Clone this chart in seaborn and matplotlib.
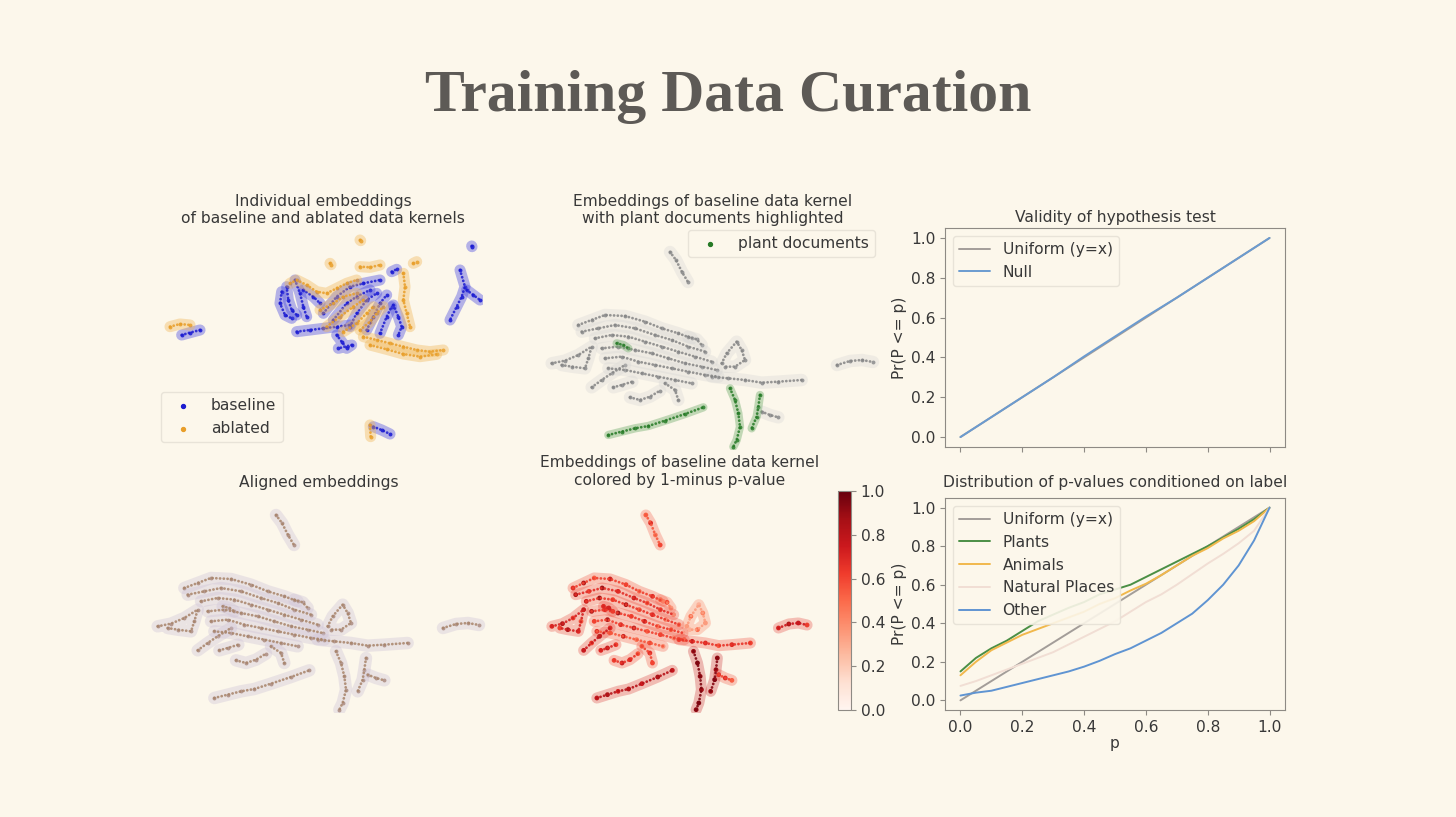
import matplotlib
matplotlib.use("Agg")
import matplotlib.pyplot as plt
import numpy as np
import pandas as pd
import seaborn as sns

# ---------------- DATA ----------------
# shared 2-D layout of the baseline kernel (panels 2, 4, 5), one list per strand
EMB_S1 = [(10, 37.5), (14, 39), (18, 40.5), (24, 40.2), (30, 38.5), (35, 36.5), (40, 35), (44, 33.5)]
EMB_S2 = [(11, 35.5), (16, 36.5), (21, 37.5), (27, 36.5), (33, 34.5), (38, 33), (43, 31), (48, 29.5)]
EMB_S3 = [(15, 33.5), (20, 34.5), (25, 34), (30, 32.5), (35, 31), (40, 29.5), (45, 28), (50, 26.5)]
EMB_S4 = [(17, 30.5), (22, 31), (27, 30), (32, 29), (37, 27.5), (42, 26), (47, 25), (51.5, 24)]
EMB_S5 = [(18, 27.5), (23, 28), (28, 26.5), (33, 25.5), (38, 24.5), (43, 23.5), (48, 22.5), (52, 22)]
EMB_S6 = [(19, 24.5), (24, 24), (29, 23), (34, 22), (39, 21), (44, 20)]
EMB_S7 = [(36, 20), (39, 18), (40, 15)]
EMB_HOOK = [(43, 34), (45.5, 33.2), (47, 31.5)]
EMB_TRI = [(53, 26), (54.5, 29), (57.5, 32.5), (59, 30), (60, 27), (57, 25), (54, 25)]
EMB_RSTRAND = [(50, 22), (55, 21.5), (60, 21), (65, 20.2), (70, 20.5), (77, 21)]
EMB_LWING = [(2, 26), (6, 26.8), (10, 28.5), (14, 31), (13, 27.5), (12, 24.5), (8, 25), (5, 25.5)]
EMB_LDIAG = [(14, 18.8), (17, 21), (20, 23), (24, 25.5)]
EMB_SMALLS = [(20.5, 18.8), (23, 19.5), (26.2, 20.5)]
EMB_SMALLC = [(25.5, 15.8), (28.5, 15), (31.5, 16), (34.5, 17.8)]
EMB_TOP = [(37.5, 59.4), (39.3, 57), (41.1, 53.4), (42.9, 50.4)]
EMB_FAR = [(87.6, 25.5), (91.5, 26.7), (95.1, 27), (98.4, 26.4)]
EMB_V1 = [(55.5, 18.5), (57, 15), (58, 11), (58.5, 7), (57.5, 3), (56.5, 1)]
EMB_V2 = [(64.5, 16.5), (64, 13), (63.5, 10), (62, 6.5)]
EMB_DIAG = [(65, 11.5), (67.5, 10.5), (70, 9.8)]
EMB_LONG = [(19, 4.5), (23, 5.5), (27, 6.5), (31, 7.2), (36, 8.8), (42, 10.8), (47.5, 12.8)]
EMB_PATCH = [(21.5, 32), (23.5, 31.5), (25, 30.5)]

# 1-minus p-value per point (panel 5)
VAL_S1 = [0.7, 0.9, 0.5, 0.8, 0.6, 0.4, 0.7, 0.3]
VAL_S2 = [0.9, 0.6, 0.95, 0.7, 0.8, 0.5, 0.6, 0.3]
VAL_S3 = [0.8, 0.95, 0.6, 0.9, 0.5, 0.7, 0.3, 0.4]
VAL_S4 = [0.9, 0.7, 0.95, 0.6, 0.8, 0.4, 0.5, 0.2]
VAL_S5 = [0.6, 0.9, 0.7, 0.85, 0.5, 0.6, 0.3, 0.4]
VAL_S6 = [0.7, 0.5, 0.8, 0.4, 0.6, 0.3]
VAL_S7 = [0.5, 0.7, 0.6]
VAL_HOOK = [0.4, 0.6, 0.3]
VAL_TRI = [0.3, 0.5, 0.2, 0.4, 0.3, 0.5, 0.2]
VAL_RSTRAND = [0.6, 0.8, 0.7, 0.5, 0.7, 0.6]
VAL_LWING = [0.7, 0.9, 0.6, 0.8, 0.5, 0.7, 0.9, 0.6]
VAL_LDIAG = [0.8, 0.6, 0.9, 0.7]
VAL_SMALLS = [0.7, 0.8, 0.6]
VAL_SMALLC = [0.6, 0.8, 0.7, 0.5]
VAL_TOP = [0.5, 0.7, 0.4, 0.6]
VAL_FAR = [0.7, 0.9, 0.8, 0.6]
VAL_V1 = [0.9, 1.0, 0.95, 0.9, 1.0, 0.95]
VAL_V2 = [0.95, 0.9, 1.0, 0.9]
VAL_DIAG = [0.6, 0.7, 0.5]
VAL_LONG = [0.8, 0.9, 0.7, 0.85, 0.75, 0.9, 0.8]
VAL_PATCH = [0.7, 0.8, 0.6]

EMB_STRANDS = [EMB_S1, EMB_S2, EMB_S3, EMB_S4, EMB_S5, EMB_S6, EMB_S7, EMB_HOOK, EMB_TRI,
               EMB_RSTRAND, EMB_LWING, EMB_LDIAG, EMB_SMALLS, EMB_SMALLC, EMB_TOP, EMB_FAR,
               EMB_V1, EMB_V2, EMB_DIAG, EMB_LONG, EMB_PATCH]
EMB_VALUES = [VAL_S1, VAL_S2, VAL_S3, VAL_S4, VAL_S5, VAL_S6, VAL_S7, VAL_HOOK, VAL_TRI,
              VAL_RSTRAND, VAL_LWING, VAL_LDIAG, VAL_SMALLS, VAL_SMALLC, VAL_TOP, VAL_FAR,
              VAL_V1, VAL_V2, VAL_DIAG, VAL_LONG, VAL_PATCH]
# strands that are plant documents (panel 2)
PLANT_STRANDS = [16, 17, 19, 20]

# individual (unaligned) embeddings, panel 1
BASE_STRANDS = [
    [(39.5, 47.5), (39, 44), (40.5, 40.5), (42.5, 39.5)],
    [(41, 49), (41.5, 45), (42.5, 42), (44, 40.5)],
    [(43.5, 51), (45, 47), (46, 43), (47, 40)],
    [(46, 48), (49, 46), (51, 44)],
    [(44, 35.5), (48, 36), (52, 36.5), (56, 37), (60, 37.5)],
    [(56, 34.5), (57.5, 32.5), (59, 30.5), (60.5, 31.5), (56.5, 30.5)],
    [(52, 41), (56, 46), (60, 49), (64, 50), (69, 51)],
    [(55, 39), (59, 44), (62, 46), (66, 48)],
    [(60, 37), (62, 41), (65, 45), (68, 47)],
    [(65, 36), (67, 40), (69, 44), (71, 46.5)],
    [(69, 35), (71, 40), (72.5, 43)],
    [(73, 43.5), (74.5, 40), (75.5, 37), (74.5, 34.5)],
    [(72.5, 53.5), (74, 54.2)],
    [(9.5, 34.5), (12, 35.2), (15, 36)],
    [(93, 54), (94.5, 49), (93.5, 46), (92, 43), (90, 39)],
    [(95, 48), (97, 46.5), (99, 45)],
    [(96.5, 61.2), (96.6, 61.0)],
    [(67, 7), (69.5, 6), (72, 4.8)],
]
ABL_STRANDS = [
    [(42, 50), (44, 51), (47, 49.5), (50, 47.5), (53, 47), (56, 48.5), (59, 50), (62, 51)],
    [(51, 42), (55, 44), (58, 46), (62, 47)],
    [(53, 37), (57, 40), (61, 43), (64, 45)],
    [(58, 35.5), (62, 38), (65, 41), (67, 43)],
    [(63, 36), (66, 38.5), (68, 41), (70, 43)],
    [(76, 53), (76.5, 49), (76, 45), (77, 41), (78, 37)],
    [(64, 34), (68, 33), (72, 32), (76, 31), (80, 30), (84, 29.5), (88, 30)],
    [(66, 31.5), (71, 30.2), (76, 28.8), (81, 28), (86, 28.7)],
    [(63, 55), (66, 54.8), (69, 55.5)],
    [(54, 56), (54.3, 55.6)],
    [(63, 63), (63.2, 62.8)],
    [(79, 56), (80, 56.5)],
    [(6, 37), (9, 37.8), (12, 37.5)],
    [(66, 7.5), (66.2, 4)],
]

# hypothesis-test validity (panel 3)
P_NULL = [0.0, 0.1, 0.2, 0.3, 0.4, 0.5, 0.6, 0.7, 0.8, 0.9, 1.0]
NULL_CDF = [0.0, 0.1, 0.2, 0.3, 0.405, 0.505, 0.605, 0.7, 0.8, 0.9, 1.0]
UNIFORM = [0.0, 1.0]

# conditional p-value CDFs (panel 6)
P_GRID = [0.0, 0.05, 0.1, 0.15, 0.2, 0.25, 0.3, 0.35, 0.4, 0.45, 0.5,
          0.55, 0.6, 0.65, 0.7, 0.75, 0.8, 0.85, 0.9, 0.95, 1.0]
PLANTS = [0.15, 0.22, 0.27, 0.31, 0.36, 0.41, 0.445, 0.48, 0.51, 0.55, 0.575,
          0.60, 0.64, 0.68, 0.72, 0.76, 0.80, 0.845, 0.89, 0.94, 1.0]
ANIMALS = [0.13, 0.20, 0.26, 0.30, 0.34, 0.37, 0.40, 0.43, 0.46, 0.50, 0.53,
           0.57, 0.605, 0.65, 0.70, 0.75, 0.79, 0.84, 0.88, 0.93, 1.0]
NATURAL = [0.075, 0.10, 0.13, 0.16, 0.19, 0.22, 0.25, 0.29, 0.33, 0.37, 0.41,
           0.46, 0.51, 0.55, 0.60, 0.655, 0.71, 0.76, 0.815, 0.88, 1.0]
OTHER = [0.025, 0.04, 0.05, 0.07, 0.09, 0.11, 0.13, 0.15, 0.175, 0.205, 0.24,
         0.27, 0.31, 0.35, 0.40, 0.45, 0.52, 0.60, 0.70, 0.83, 1.0]

# ---------------- STYLE ----------------
BG = "#fcf7eb"
TXT = "#383838"
SPINE = "#8e8a84"
FS = 11.2
LINE_COLORS = {"Uniform (y=x)": "#a39d99", "Null": "#6b9bd0", "Plants": "#4b8f45",
               "Animals": "#f1b84c", "Natural Places": "#f1ded4", "Other": "#5f94d2"}

sns.set_style("ticks", {"axes.facecolor": BG, "figure.facecolor": BG,
                        "axes.edgecolor": SPINE, "xtick.color": SPINE, "ytick.color": SPINE})
plt.rcParams["font.family"] = ["DejaVu Sans"]
plt.rcParams["font.size"] = FS
plt.rcParams["text.color"] = TXT
plt.rcParams["axes.labelcolor"] = TXT
plt.rcParams["xtick.labelcolor"] = TXT
plt.rcParams["ytick.labelcolor"] = TXT

W, H = 1456, 817


def rect(l, t, r, b):
    return [l / W, 1 - b / H, (r - l) / W, (b - t) / H]


def strands_df(strands, values=None):
    rows = []
    for i, s in enumerate(strands):
        for j, (x, y) in enumerate(s):
            v = values[i][j] if values is not None else 0.0
            sv = float(np.mean(values[i])) if values is not None else 0.0
            rows.append({"strand": i, "x": x, "y": y, "v": v, "sv": sv})
    return pd.DataFrame(rows)


def draw_cloud(ax, df, haze, dot, haze_lw=9, dot_lw=2.0, haze_alpha=0.28):
    if len(df) == 0:
        return
    sns.lineplot(data=df, x="x", y="y", units="strand", estimator=None, sort=False,
                 color=haze, lw=haze_lw, alpha=haze_alpha, solid_capstyle="round",
                 ax=ax, legend=False)
    sns.lineplot(data=df, x="x", y="y", units="strand", estimator=None, sort=False,
                 color=dot, lw=dot_lw, alpha=0.85, linestyle=(0, (0.05, 1.3)),
                 dash_capstyle="round", ax=ax, legend=False)
    sns.scatterplot(data=df, x="x", y="y", color=dot, s=8, linewidth=0, ax=ax, legend=False)


def emb_axes(box):
    ax = fig.add_axes(rect(*box))
    ax.set_xlim(-0.6, 101.4)
    ax.set_ylim(0, 65.1)
    ax.set_axis_off()
    return ax


fig = plt.figure(figsize=(W / 100, H / 100), dpi=100, facecolor=BG)
fig.text(0.5, 1 - 97 / H, "Training Data Curation", ha="center", va="center",
         fontsize=43, family="Liberation Serif", weight="bold", color="#5d5a56")

emb = strands_df(EMB_STRANDS, EMB_VALUES)
emb["plant"] = emb["strand"].isin(PLANT_STRANDS)

# ---- panel 1: individual embeddings
ax1 = fig.add_axes(rect(163, 233, 483, 450))
ax1.set_xlim(3.9, 99.9)
ax1.set_ylim(0, 65.1)
ax1.set_axis_off()
draw_cloud(ax1, strands_df(BASE_STRANDS), "#4848e0", "#1c1cd0", haze_lw=8, haze_alpha=0.4)
draw_cloud(ax1, strands_df(ABL_STRANDS), "#f0b85a", "#e89e2a", haze_lw=8, haze_alpha=0.4)
ax1.scatter([], [], color="#1c1cd0", s=8, label="baseline")
ax1.scatter([], [], color="#e89e2a", s=8, label="ablated")
ax1.legend(loc="lower left", bbox_to_anchor=(-0.03, 0.0), fontsize=FS, markerscale=1.0,
           frameon=True, facecolor=BG, edgecolor="#e6e1d6", framealpha=0.9)
ax1.set_title("Individual embeddings\nof baseline and ablated data kernels", fontsize=FS, pad=7)

# ---- panel 2: plant documents
ax2 = emb_axes((543, 233, 883, 450))
draw_cloud(ax2, emb[~emb["plant"]], "#cfcfcf", "#858585")
draw_cloud(ax2, emb[emb["plant"]], "#6aa866", "#267a26", haze_lw=6, haze_alpha=0.4)
ax2.scatter([], [], color="#267a26", s=8, label="plant documents")
ax2.legend(loc="upper right", bbox_to_anchor=(1.0, 1.05), fontsize=FS, frameon=True,
           facecolor=BG, edgecolor="#e6e1d6", framealpha=0.9)
ax2.set_title("Embeddings of baseline data kernel\nwith plant documents highlighted", fontsize=FS, pad=7)

# ---- panel 4: aligned embeddings
ax4 = emb_axes((149, 496, 489, 713))
draw_cloud(ax4, emb, "#cbc0d6", "#a8846a", haze_alpha=0.35)
ax4.set_title("Aligned embeddings", fontsize=FS, pad=6.5)

# ---- panel 5: coloured by 1 - p
ax5 = emb_axes((545, 496, 815, 713))
sns.lineplot(data=emb, x="x", y="y", units="strand", estimator=None, sort=False,
             hue="sv", palette="Reds", hue_norm=(-0.6, 1.4), lw=8, alpha=0.28,
             solid_capstyle="round", ax=ax5, legend=False)
sns.lineplot(data=emb, x="x", y="y", units="strand", estimator=None, sort=False,
             hue="sv", palette="Reds", hue_norm=(0, 1), lw=2.0, alpha=0.9,
             linestyle=(0, (0.05, 1.3)), dash_capstyle="round", ax=ax5, legend=False)
sns.scatterplot(data=emb, x="x", y="y", hue="v", palette="Reds", hue_norm=(0, 1),
                s=12, linewidth=0, ax=ax5, legend=False)
ax5.set_title("Embeddings of baseline data kernel\ncolored by 1-minus p-value", fontsize=FS, pad=8)
cax = fig.add_axes(rect(838, 491, 851, 710))
sm = plt.cm.ScalarMappable(norm=plt.Normalize(0, 1), cmap="Reds")
cb = fig.colorbar(sm, cax=cax)
cb.set_ticks([0.0, 0.2, 0.4, 0.6, 0.8, 1.0])
cb.outline.set_edgecolor(SPINE)
cb.outline.set_linewidth(0.8)
cax.tick_params(labelsize=FS, color=SPINE)

# ---- panel 3: validity
ax3 = fig.add_axes(rect(945, 228, 1285, 447))
val = pd.concat([
    pd.DataFrame({"p": [0.0, 1.0], "cdf": UNIFORM, "label": "Uniform (y=x)"}),
    pd.DataFrame({"p": P_NULL, "cdf": NULL_CDF, "label": "Null"}),
])
sns.lineplot(data=val, x="p", y="cdf", hue="label", palette=LINE_COLORS, lw=1.4, ax=ax3)
ax3.set_xlim(-0.05, 1.05)
ax3.set_ylim(-0.05, 1.05)
ax3.set_xticks([0.0, 0.2, 0.4, 0.6, 0.8, 1.0])
ax3.set_xticklabels([])
ax3.set_yticks([0.0, 0.2, 0.4, 0.6, 0.8, 1.0])
ax3.set_xlabel("")
ax3.set_ylabel("Pr(P <= p)", fontsize=FS, labelpad=3)
ax3.set_title("Validity of hypothesis test", fontsize=FS, pad=4)
ax3.legend(loc="upper left", fontsize=FS, facecolor=BG, edgecolor="#e6e1d6", framealpha=0.9)

# ---- panel 6: conditional distributions
ax6 = fig.add_axes(rect(945, 498, 1285, 710))
cond = pd.concat([
    pd.DataFrame({"p": [0.0, 1.0], "cdf": UNIFORM, "label": "Uniform (y=x)"}),
    pd.DataFrame({"p": P_GRID, "cdf": PLANTS, "label": "Plants"}),
    pd.DataFrame({"p": P_GRID, "cdf": ANIMALS, "label": "Animals"}),
    pd.DataFrame({"p": P_GRID, "cdf": NATURAL, "label": "Natural Places"}),
    pd.DataFrame({"p": P_GRID, "cdf": OTHER, "label": "Other"}),
])
sns.lineplot(data=cond, x="p", y="cdf", hue="label", palette=LINE_COLORS, lw=1.4, ax=ax6)
ax6.set_xlim(-0.05, 1.05)
ax6.set_ylim(-0.05, 1.05)
ax6.set_xticks([0.0, 0.2, 0.4, 0.6, 0.8, 1.0])
ax6.set_yticks([0.0, 0.2, 0.4, 0.6, 0.8, 1.0])
ax6.set_xlabel("p", fontsize=FS, labelpad=1)
ax6.set_ylabel("Pr(P <= p)", fontsize=FS, labelpad=3)
ax6.set_title("Distribution of p-values conditioned on label", fontsize=FS, pad=8)
ax6.legend(loc="upper left", fontsize=FS, facecolor=BG, edgecolor="#e6e1d6", framealpha=0.9)

for ax in (ax3, ax6):
    for s in ax.spines.values():
        s.set_color(SPINE)
        s.set_linewidth(0.8)
    ax.tick_params(labelsize=FS)

fig.savefig("out.png", dpi=100, facecolor=BG)
